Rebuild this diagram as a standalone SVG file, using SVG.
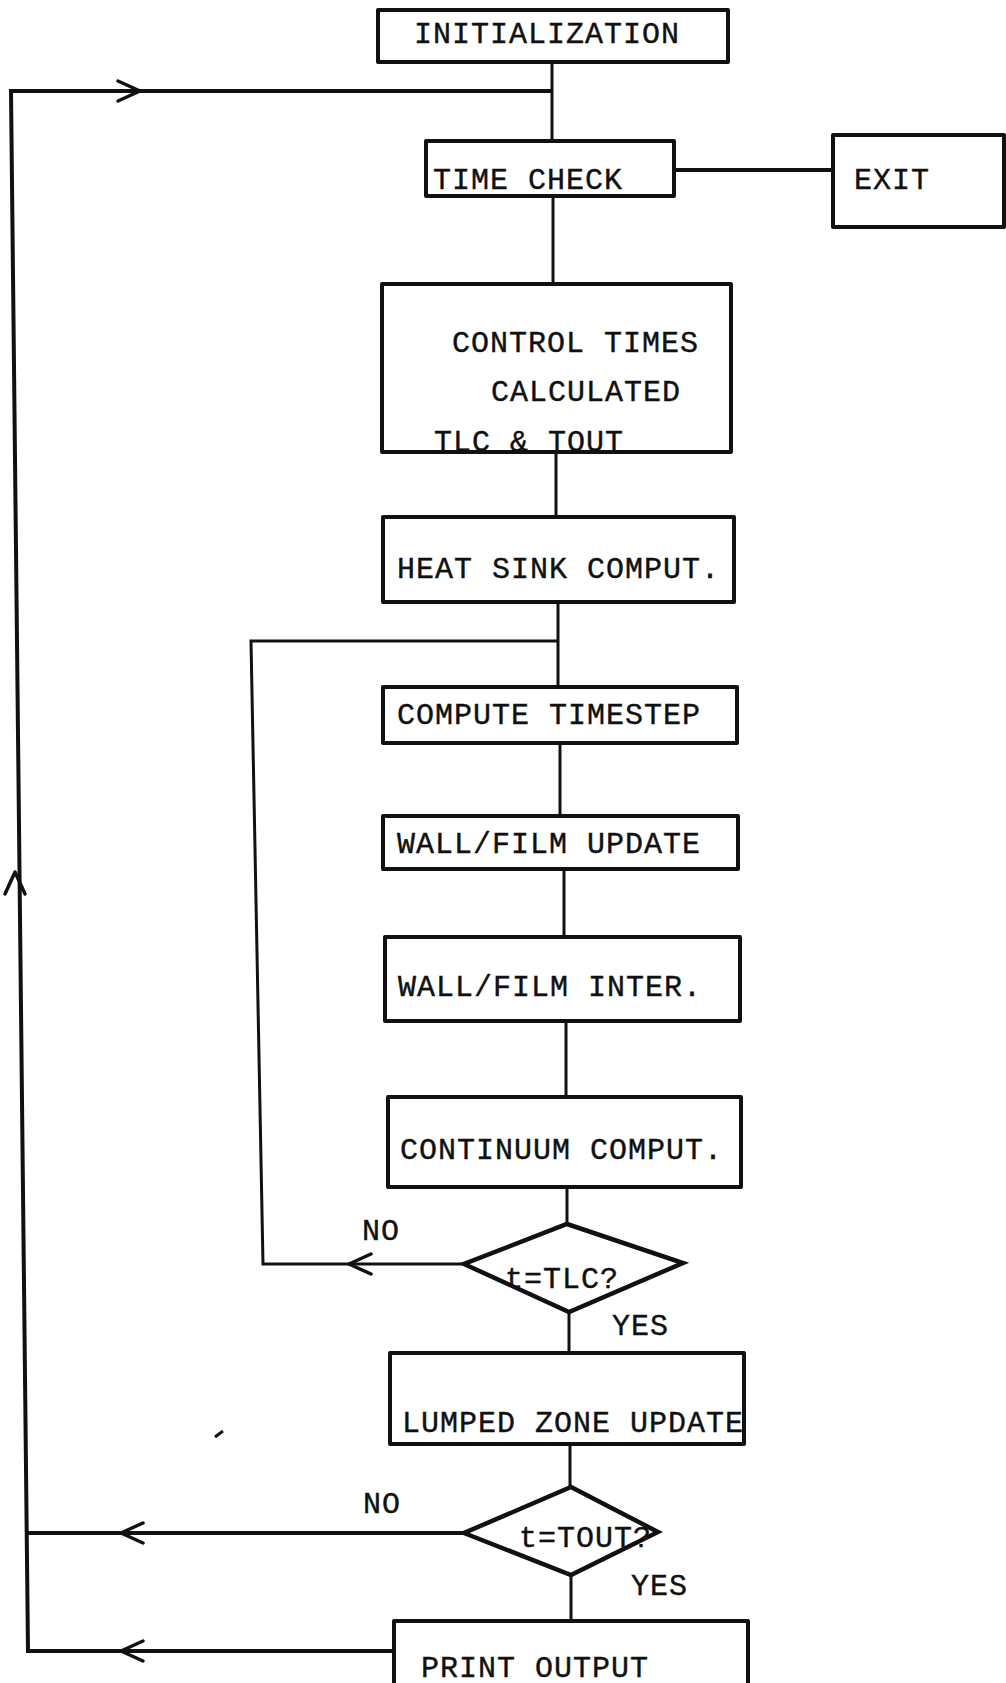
<svg xmlns="http://www.w3.org/2000/svg" xmlns:xlink="http://www.w3.org/1999/xlink" width="1006" height="1683" viewBox="0 0 1006 1683">
<style>
  .box{fill:#fff;stroke:#111;stroke-width:4;stroke-linejoin:round}
  .dia{fill:#fff;stroke:#111;stroke-width:4.5;stroke-linejoin:miter}
  .ln{fill:none;stroke:#111;stroke-width:3;stroke-linejoin:miter}
  .thick{stroke-width:4}
  .chev{fill:none;stroke:#111;stroke-width:3.5;stroke-linecap:round;stroke-linejoin:round}
  text{font-family:"Liberation Mono","DejaVu Sans Mono",monospace;font-size:30px;letter-spacing:1px;fill:#111;stroke:#111;stroke-width:0.4}
</style>
<defs>
  <path id="chev" class="chev" d="M22,-10 L0,0 L22,10"/>
</defs>
<rect width="1006" height="1683" fill="#fff"/>
<g id="connectors">
  <path class="ln" d="M552,62 V141"/>
  <path class="ln thick" d="M674,170 H833"/>
  <path class="ln" d="M553,196 V284"/>
  <path class="ln" d="M556,452 V517"/>
  <path class="ln" d="M558,602 V687"/>
  <path class="ln" d="M464,1264 H263 L251,641 H558"/>
  <path class="ln" d="M560,743 V816"/>
  <path class="ln" d="M564,869 V937"/>
  <path class="ln" d="M566,1021 V1097"/>
  <path class="ln" d="M567,1187 V1224"/>
  <path class="ln" d="M569,1312 V1353"/>
  <path class="ln" d="M570,1444 V1487"/>
  <path class="ln" d="M571,1575 V1621"/>
  <path class="ln thick" d="M464,1533 H27"/>
  <path class="ln thick" d="M394,1651 H28 L11,91 H552"/>
  <use xlink:href="#chev" href="#chev" transform="translate(140,91) rotate(180)"/>
  <use xlink:href="#chev" href="#chev" transform="translate(15,872) rotate(90)"/>
  <use xlink:href="#chev" href="#chev" transform="translate(349,1264)"/>
  <use xlink:href="#chev" href="#chev" transform="translate(121,1533)"/>
  <use xlink:href="#chev" href="#chev" transform="translate(121,1651)"/>
  <path class="ln" d="M215,1437 L223,1431"/>
</g>
<g id="init">
  <rect class="box" x="378" y="10" width="350" height="52"/>
  <text x="414" y="43">INITIALIZATION</text>
</g>
<g id="timecheck">
  <rect class="box" x="426" y="141" width="248" height="55"/>
  <text x="433" y="189">TIME CHECK</text>
</g>
<g id="exit">
  <rect class="box" x="833" y="135" width="171" height="92"/>
  <text x="854" y="189">EXIT</text>
</g>
<g id="control">
  <rect class="box" x="382" y="284" width="349" height="168"/>
  <text x="452" y="352">CONTROL TIMES</text>
  <text x="491" y="401">CALCULATED</text>
  <text x="434" y="451">TLC &amp; TOUT</text>
</g>
<g id="heatsink">
  <rect class="box" x="383" y="517" width="351" height="85"/>
  <text x="397" y="578">HEAT SINK COMPUT.</text>
</g>
<g id="timestep">
  <rect class="box" x="383" y="687" width="354" height="56"/>
  <text x="397" y="724">COMPUTE TIMESTEP</text>
</g>
<g id="wallupdate">
  <rect class="box" x="383" y="816" width="355" height="53"/>
  <text x="397" y="853">WALL/FILM UPDATE</text>
</g>
<g id="wallinter">
  <rect class="box" x="385" y="937" width="355" height="84"/>
  <text x="398" y="996">WALL/FILM INTER.</text>
</g>
<g id="continuum">
  <rect class="box" x="388" y="1097" width="353" height="90"/>
  <text x="400" y="1159">CONTINUUM COMPUT.</text>
</g>
<g id="tlc">
  <polygon class="dia" points="567,1224 683,1263 569,1312 464,1264"/>
  <text x="505" y="1288">t=TLC?</text>
  <text x="362" y="1240">NO</text>
  <text x="612" y="1335">YES</text>
</g>
<g id="lumped">
  <rect class="box" x="390" y="1353" width="354" height="91"/>
  <text x="402" y="1432">LUMPED ZONE UPDATE</text>
</g>
<g id="tout">
  <polygon class="dia" points="571,1487 658,1532 571,1575 464,1533"/>
  <text x="519" y="1547">t=TOUT?</text>
  <text x="363" y="1513">NO</text>
  <text x="631" y="1595">YES</text>
</g>
<g id="print">
  <rect class="box" x="394" y="1621" width="354" height="90"/>
  <text x="421" y="1677">PRINT OUTPUT</text>
</g>
</svg>
